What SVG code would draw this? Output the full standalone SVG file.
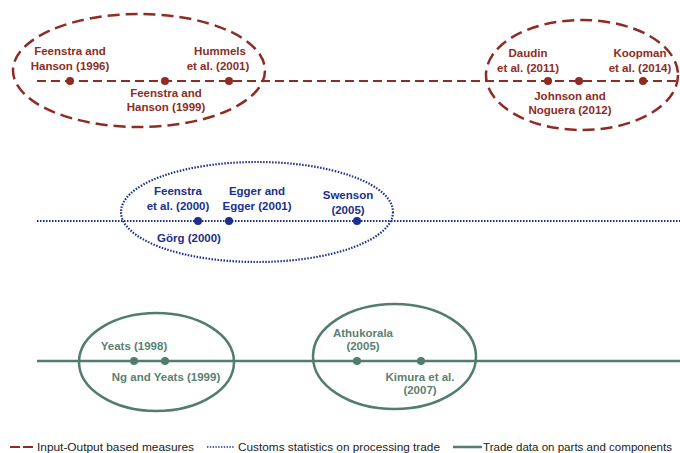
<svg xmlns="http://www.w3.org/2000/svg" width="680" height="453" viewBox="0 0 680 453">
<style>
.r{stroke:#8e2c24;fill:none}
.b{stroke:#1c2f8c;fill:none}
.g{stroke:#527d6c;fill:none}
.rd{fill:#8e2c24}
.bd{fill:#1c2f8c}
.gd{fill:#527d6c}
text{font-family:"Liberation Sans",Arial,sans-serif;font-size:11.5px;font-weight:bold;text-anchor:middle}
.rt{fill:#8e2c24}
.bt{fill:#1c2f8c}
.gt{fill:#5b7f72}
.lg{font-family:"Liberation Sans",Arial,sans-serif;font-weight:normal;font-size:11px;text-anchor:start;fill:#222}
</style>
<rect width="680" height="453" fill="#fff"/>
<g id="connectors">
<line class="r" x1="37" y1="81" x2="680" y2="81" stroke-width="2" stroke-dasharray="9,5"/>
<line class="b" x1="37" y1="221" x2="680" y2="221" stroke-width="2" stroke-dasharray="1.5,1.5"/>
<line class="g" x1="37" y1="361" x2="680" y2="361" stroke-width="2.5"/>
</g>
<g id="group-io-1"><ellipse class="r" cx="139" cy="70.5" rx="126" ry="56.5" stroke-width="2.5" stroke-dasharray="12,6"/></g>
<g id="group-io-2"><ellipse class="r" cx="582" cy="75" rx="96" ry="55" stroke-width="2.5" stroke-dasharray="12,6"/></g>
<g id="group-customs"><ellipse class="b" cx="257" cy="212" rx="136" ry="50" stroke-width="2.2" stroke-dasharray="1.5,1.5"/></g>
<g id="group-parts-1"><ellipse class="g" cx="156.5" cy="362" rx="77.5" ry="49" stroke-width="2.5"/></g>
<g id="group-parts-2"><ellipse class="g" cx="394.5" cy="356.5" rx="81.5" ry="52.5" stroke-width="2.5"/></g>

<g id="n-fh1996"><circle class="rd" cx="70" cy="81" r="4"/><text class="rt" x="70" y="55">Feenstra and</text><text class="rt" x="70" y="70">Hanson (1996)</text></g>
<g id="n-fh1999"><circle class="rd" cx="165" cy="81" r="4"/><text class="rt" x="166" y="97">Feenstra and</text><text class="rt" x="166" y="111">Hanson (1999)</text></g>
<g id="n-hummels"><circle class="rd" cx="229" cy="81" r="4"/><text class="rt" x="220" y="55">Hummels</text><text class="rt" x="218" y="70">et al. (2001)</text></g>
<g id="n-daudin"><circle class="rd" cx="548" cy="81" r="4"/><text class="rt" x="528" y="57">Daudin</text><text class="rt" x="528" y="72">et al. (2011)</text></g>
<g id="n-johnson"><circle class="rd" cx="579" cy="81" r="4"/><text class="rt" x="570" y="100">Johnson and</text><text class="rt" x="570" y="114">Noguera (2012)</text></g>
<g id="n-koopman"><circle class="rd" cx="643" cy="81" r="4"/><text class="rt" x="640" y="57">Koopman</text><text class="rt" x="640" y="72">et al. (2014)</text></g>

<g id="n-feenstra2000"><circle class="bd" cx="198" cy="221" r="4"/><text class="bt" x="178" y="195">Feenstra</text><text class="bt" x="178" y="210">et al. (2000)</text></g>
<g id="n-gorg"><text class="bt" x="189" y="242">Görg (2000)</text></g>
<g id="n-egger"><circle class="bd" cx="229" cy="221" r="4"/><text class="bt" x="257" y="195">Egger and</text><text class="bt" x="257" y="210">Egger (2001)</text></g>
<g id="n-swenson"><circle class="bd" cx="357" cy="221" r="4"/><text class="bt" x="348" y="199">Swenson</text><text class="bt" x="348" y="214">(2005)</text></g>

<g id="n-yeats"><circle class="gd" cx="134" cy="361" r="4"/><text class="gt" x="134" y="350">Yeats (1998)</text></g>
<g id="n-ng"><circle class="gd" cx="165" cy="361" r="4"/><text class="gt" x="166" y="381">Ng and Yeats (1999)</text></g>
<g id="n-athukorala"><circle class="gd" cx="357" cy="361" r="4"/><text class="gt" x="363" y="337">Athukorala</text><text class="gt" x="363" y="350">(2005)</text></g>
<g id="n-kimura"><circle class="gd" cx="421" cy="361" r="4"/><text class="gt" x="420" y="381">Kimura et al.</text><text class="gt" x="420" y="394">(2007)</text></g>

<g id="legend">
<line class="r" x1="10" y1="447" x2="35" y2="447" stroke-width="2" stroke-dasharray="10,3"/>
<text class="lg" x="37" y="450.5" textLength="157" lengthAdjust="spacingAndGlyphs">Input-Output based measures</text>
<line class="b" x1="207" y1="447" x2="235" y2="447" stroke-width="1.6" stroke-dasharray="1.4,1.4"/>
<text class="lg" x="238" y="450.5" textLength="202" lengthAdjust="spacingAndGlyphs">Customs statistics on processing trade</text>
<line class="g" x1="453" y1="447" x2="482" y2="447" stroke-width="2.5"/>
<text class="lg" x="483" y="450.5" textLength="189" lengthAdjust="spacingAndGlyphs">Trade data on parts and components</text>
</g>
</svg>
